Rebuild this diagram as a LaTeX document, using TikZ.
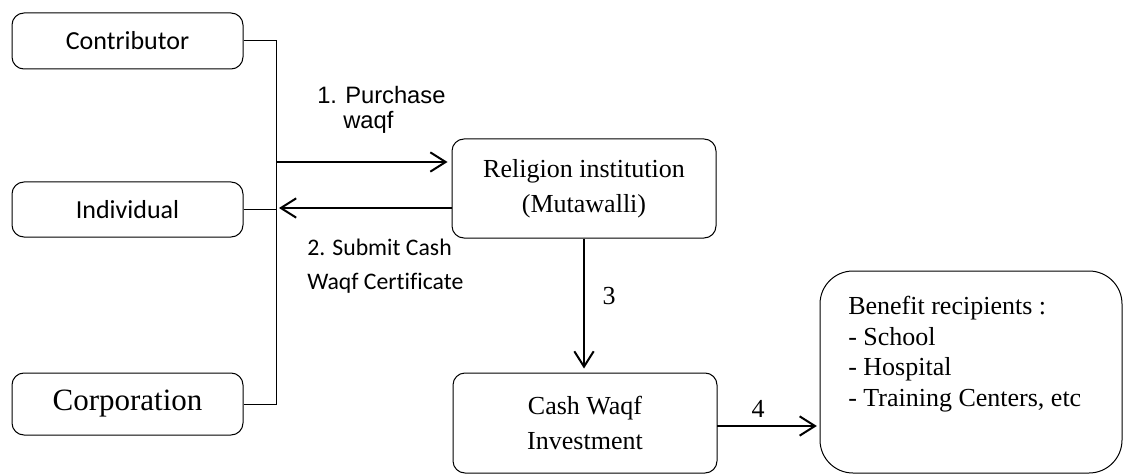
\documentclass[tikz,border=0pt]{standalone}
\usepackage{fontspec}
\setmainfont{Liberation Serif}
\newfontfamily\calibri[Ligatures=NoCommon]{Carlito}
\newfontfamily\arialf{Liberation Sans}
\usetikzlibrary{arrows.meta}
\tikzset{
  box/.style={draw, rounded corners=9pt, line width=0.75pt, inner sep=0pt, minimum width=173.25pt, align=center},
  thinline/.style={line width=0.75pt},
  arr/.style={line width=1.5pt, -{Straight Barb[length=11.5pt,width=14.5pt,line width=1.5pt]}},
  lbl/.style={inner sep=0pt, align=left}
}
\begin{document}
\begin{tikzpicture}[x=0.75pt,y=-0.75pt]
\useasboundingbox (0,0) rectangle (1124,474);
% left boxes
\node[box, minimum height=42pt, font=\calibri\fontsize{19.5}{23}\selectfont] (contrib) at (127.5,41) {Contributor};
\node[box, minimum height=41.25pt, font=\calibri\fontsize{19.5}{23}\selectfont] (indiv) at (127.5,209.5) {Individual};
\node[box, minimum height=46.5pt, font=\fontsize{23.25}{28}\selectfont] (corp) at (127.5,404) {Corporation};
% middle boxes
\node[box, minimum width=198pt, minimum height=74.25pt, font=\fontsize{19.5}{26.25}\selectfont] (relig) at (584,188.5) {Religion institution\\(Mutawalli)};
\node[box, minimum width=198pt, minimum height=75pt, font=\fontsize{19.5}{26.25}\selectfont] (cash) at (585,423) {Cash Waqf\\Investment};
% benefit box
\node[draw, thinline, rounded corners=24.75pt, minimum width=226.5pt, minimum height=151.5pt, inner sep=0pt] (ben) at (971,372) {};
\node[lbl, anchor=north west, font=\fontsize{19.5}{22.9}\selectfont] (bentxt) at (848,296) {Benefit recipients :\\- School\\- Hospital\\- Training Centers, etc};
% bus
\coordinate (bustop) at (276,41);
\coordinate (busbot) at (276,404);
\draw[thinline] (contrib.east) -- (bustop) -- (busbot) -- (corp.east);
\draw[thinline] (indiv.east) -- (indiv.east -| bustop);
% arrows 1 and 2
\coordinate (a1s) at (276,162);
\coordinate (a2e) at (279,208);
\draw[arr, shorten >=3pt] (a1s) -- (a1s -| relig.west);
\draw[arr] (a2e -| relig.west) -- (a2e);
% arrow 3 and 4
\draw[arr, shorten >=3pt] (relig.south) -- (relig.south |- cash.north);
\coordinate (a4) at (717,426);
\draw[arr, shorten >=2pt] (a4) -- (a4 -| ben.west);
% labels
\node[lbl, anchor=north west, font=\arialf\fontsize{17.8}{18.75}\selectfont] (lab1) at (317,86) {\makebox[21pt][l]{1.}Purchase\\\hspace*{19.5pt}waqf};
\node[lbl, anchor=north west, font=\calibri\fontsize{17.8}{25.5}\selectfont] (lab2) at (307,239) {2. Submit Cash\\Waqf Certificate};
\node[font=\fontsize{19.5}{20}\selectfont] (lab3) at (609,296) {3};
\node[font=\fontsize{19.5}{20}\selectfont] (lab4) at (758,409) {4};
\end{tikzpicture}
\end{document}
